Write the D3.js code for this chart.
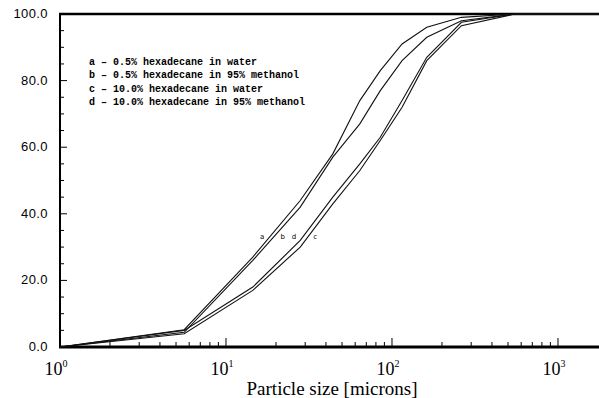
<!DOCTYPE html>
<html lang="en">
<head>
<meta charset="utf-8">
<script src="https://d3js.org/d3.v7.min.js"></script>
<style>
  body { margin: 0; background: #fff; }
  svg { display: block; }
  .ytick text { font-family: "Liberation Sans", Arial, sans-serif; font-size: 13px; letter-spacing: 0.4px; }
  .key text { font-family: "Liberation Mono", "Courier New", monospace; font-size: 10px; font-weight: bold; }
  .tag { font-family: "DejaVu Sans", sans-serif; font-size: 7px; }
  .xlab { font-family: "Liberation Serif", "Times New Roman", serif; }
</style>
</head>
<body>
<script>
// particle sizes (microns) where the distributions were sampled
var sizes = [1, 5.6, 14.5, 28, 44, 64, 85, 115, 162, 262, 550, 1766];

// cumulative volume percent for each sample
var seriesA = [0, 5.2, 27, 44, 58, 74, 83, 91, 96, 99, 100, 100];
var seriesB = [0, 4.4, 26, 42, 57, 67, 77, 86, 93, 98, 100, 100];
var seriesC = [0, 4.0, 17, 30, 43, 53, 62, 72, 86, 96.5, 100, 100];
var seriesD = [0, 5.0, 18, 32, 45, 55, 63, 74, 87, 97.5, 100, 100];

var legendLines = [
  "a \u2013 0.5% hexadecane in water",
  "b \u2013 0.5% hexadecane in 95% methanol",
  "c \u2013 10.0% hexadecane in water",
  "d \u2013 10.0% hexadecane in 95% methanol"
];

// letters written next to the curves, at (size, percent)
var tagNames = ["a", "b", "d", "c"];
var tagSizes = [16.5, 22, 25.7, 34.4];
var tagLevel = 33;

var yTicks = [0, 20, 40, 60, 80, 100];
var xDecades = [0, 1, 2, 3];

var W = 599, H = 398;
var pL = 60, pT = 14, pB = 347, pR = 599;

var svg = d3.select("body").append("svg")
    .attr("width", W)
    .attr("height", H);

var x = d3.scaleLog().domain([1, 1766]).range([pL, pR]);
var y = d3.scaleLinear().domain([0, 100]).range([pB, pT]);

// y axis: ticks pointing inward, minor every 5
var yMinor = d3.range(0, 101, 5);
svg.append("g").selectAll("line")
    .data(yMinor)
    .enter().append("line")
    .attr("x1", pL)
    .attr("x2", function(d) { return pL + (d % 20 === 0 ? 7 : 4); })
    .attr("y1", function(d) { return y(d); })
    .attr("y2", function(d) { return y(d); })
    .attr("stroke", "#000")
    .attr("stroke-width", 1);

svg.append("g").attr("class", "ytick").selectAll("text")
    .data(yTicks)
    .enter().append("text")
    .attr("x", 48)
    .attr("y", function(d) { return y(d) + 4; })
    .attr("text-anchor", "end")
    .text(function(d) { return d.toFixed(1); });

// x axis: log ticks pointing up
var xMinor = [];
xDecades.forEach(function(k) {
  for (var m = 1; m <= 9; m++) {
    var v = m * Math.pow(10, k);
    if (v > 1 && v <= 1766) xMinor.push(v);
  }
});
svg.append("g").selectAll("line")
    .data(xMinor)
    .enter().append("line")
    .attr("x1", function(d) { return x(d); })
    .attr("x2", function(d) { return x(d); })
    .attr("y1", pB)
    .attr("y2", function(d) {
      var lg = Math.log10(d);
      return pB - (Math.abs(lg - Math.round(lg)) < 1e-9 ? 9 : 5);
    })
    .attr("stroke", "#000")
    .attr("stroke-width", 1);

var xl = svg.append("g").attr("class", "xlab").selectAll("text")
    .data(xDecades)
    .enter().append("text")
    .attr("x", function(d) { return x(Math.pow(10, d)) - 4; })
    .attr("y", 375)
    .attr("text-anchor", "middle")
    .attr("font-size", 18);
xl.append("tspan").text("10");
xl.append("tspan")
    .attr("dy", -8)
    .attr("font-size", 10)
    .text(function(d) { return d; });

svg.append("text")
    .attr("class", "xlab")
    .attr("x", 332)
    .attr("y", 395)
    .attr("text-anchor", "middle")
    .attr("font-size", 19)
    .text("Particle size [microns]");

// frame: left, bottom and top edges
svg.append("line").attr("x1", pL).attr("x2", pL).attr("y1", pT).attr("y2", pB)
    .attr("stroke", "#000").attr("stroke-width", 2);
svg.append("line").attr("x1", pL - 1).attr("x2", pR).attr("y1", pB).attr("y2", pB)
    .attr("stroke", "#000").attr("stroke-width", 3);
svg.append("line").attr("x1", pL - 1).attr("x2", pR).attr("y1", pT).attr("y2", pT)
    .attr("stroke", "#000").attr("stroke-width", 2.5);

// curves
var line = d3.line()
    .x(function(d) { return x(d[0]); })
    .y(function(d) { return y(d[1]); });

[seriesA, seriesB, seriesC, seriesD].forEach(function(s) {
  svg.append("path")
      .datum(d3.zip(sizes, s))
      .attr("d", line)
      .attr("fill", "none")
      .attr("stroke", "#111")
      .attr("stroke-width", 1.1);
});

svg.append("g").selectAll("text")
    .data(tagNames)
    .enter().append("text")
    .attr("class", "tag")
    .attr("x", function(d, i) { return x(tagSizes[i]); })
    .attr("y", y(tagLevel) + 2)
    .attr("text-anchor", "middle")
    .text(function(d) { return d; });

// legend
svg.append("g").attr("class", "key").selectAll("text")
    .data(legendLines)
    .enter().append("text")
    .attr("x", 89)
    .attr("y", function(d, i) { return 65 + i * 13.3; })
    .text(function(d) { return d; });
</script>
</body>
</html>
